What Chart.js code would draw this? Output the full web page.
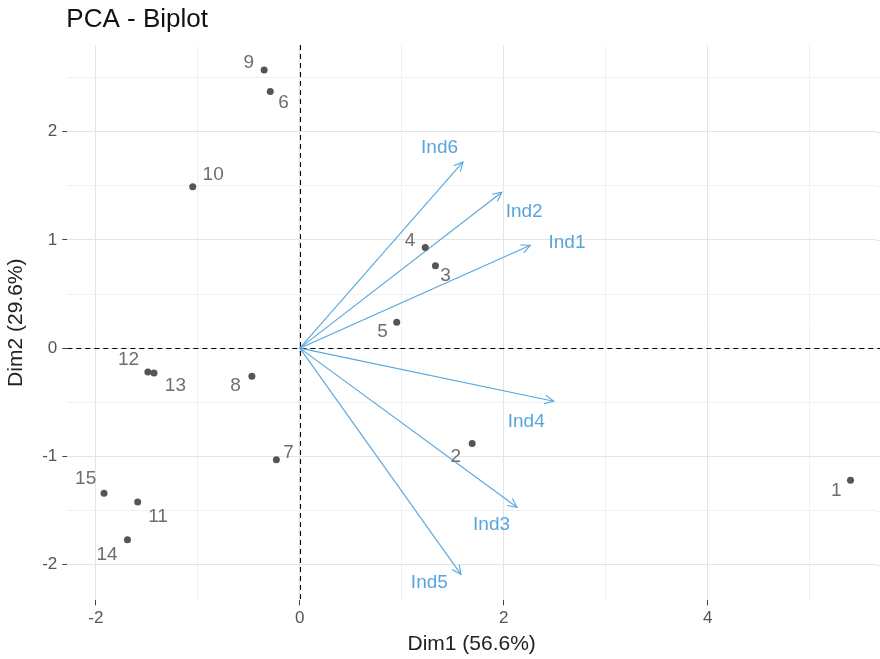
<!DOCTYPE html>
<html>
<head>
<meta charset="utf-8">
<script src="https://cdn.jsdelivr.net/npm/chart.js@4.4.1/dist/chart.umd.min.js"></script>
<style>
  html, body { margin: 0; padding: 0; background: #ffffff; }
  #wrap { width: 880px; height: 659px; }
</style>
</head>
<body>
<div id="wrap"><canvas id="c" width="880" height="659"></canvas></div>
<script>
// ---- Data ----
const pointNames = ["1","2","3","4","5","6","7","8","9","10","11","12","13","14","15"];
const pointX = [5.40, 1.69, 1.33, 1.23, 0.95, -0.29, -0.23, -0.47, -0.35, -1.05, -1.59, -1.49, -1.43, -1.69, -1.92];
const pointY = [-1.22, -0.88, 0.76, 0.93, 0.24, 2.37, -1.03, -0.26, 2.57, 1.49, -1.42, -0.22, -0.23, -1.77, -1.34];
// repelled label anchors (data units)
const pointLabelX = [5.26, 1.53, 1.43, 1.08, 0.81, -0.16, -0.11, -0.63, -0.50, -0.85, -1.39, -1.68, -1.22, -1.89, -2.10];
const pointLabelY = [-1.32, -1.00, 0.67, 0.99, 0.15, 2.27, -0.97, -0.35, 2.64, 1.60, -1.56, -0.11, -0.35, -1.91, -1.21];

const varNames = ["Ind1","Ind2","Ind3","Ind4","Ind5","Ind6"];
const varX = [2.26, 1.98, 2.13, 2.49, 1.58, 1.60];
const varY = [0.95, 1.44, -1.47, -0.49, -2.09, 1.72];
const varLabelX = [2.62, 2.20, 1.88, 2.22, 1.27, 1.37];
const varLabelY = [0.97, 1.26, -1.63, -0.68, -2.17, 1.85];

const xMajorTicks = [-2, 0, 2, 4];
const xMinorTicks = [-1, 1, 3, 5];
const yMajorTicks = [-2, -1, 0, 1, 2];
const yMinorTicks = [-1.5, -0.5, 0.5, 1.5, 2.5];
const xRange = [-2.28, 5.65];
const yRange = [-2.33, 2.80];

const titleText = "PCA - Biplot";
const xTitle = "Dim1 (56.6%)";
const yTitle = "Dim2 (29.6%)";

// ---- Styles ----
const FONT = "'Liberation Sans', Arial, sans-serif";
const pointColor = "#555555";
const pointLabelColor = "#6e6e6e";
const arrowColor = "#56a6dd";
const majorGrid = "#e4e4e4";
const minorGrid = "#f1f1f1";

const datasets = [{
  type: 'scatter',
  label: 'individuals',
  data: pointX.map((x, i) => ({ x: x, y: pointY[i] })),
  backgroundColor: pointColor,
  borderWidth: 0,
  pointRadius: 3.5,
  order: 1
}];
varNames.forEach((n, i) => {
  datasets.push({
    type: 'scatter',
    label: n,
    data: [{ x: 0, y: 0 }, { x: varX[i], y: varY[i] }],
    showLine: true,
    borderColor: arrowColor,
    borderWidth: 1.1,
    pointRadius: 0,
    order: 2
  });
});

const isIn = (arr, v) => arr.some(a => Math.abs(a - v) < 1e-9);

const decor = {
  id: 'decor',
  beforeDatasetsDraw(chart) {
    const { ctx, chartArea: a, scales: { x, y } } = chart;
    ctx.save();
    // extend horizontal grid lines to the canvas edge
    yMajorTicks.concat(yMinorTicks).forEach(v => {
      const py = Math.round(y.getPixelForValue(v)) + 0.5;
      ctx.strokeStyle = isIn(yMajorTicks, v) ? majorGrid : minorGrid;
      ctx.lineWidth = 1;
      ctx.beginPath(); ctx.moveTo(a.right, py); ctx.lineTo(chart.width, py); ctx.stroke();
    });
    ctx.strokeStyle = '#000';
    ctx.lineWidth = 1.1;
    ctx.setLineDash([5, 4]);
    const x0 = Math.round(x.getPixelForValue(0)) + 0.5;
    const y0 = Math.round(y.getPixelForValue(0)) + 0.5;
    ctx.beginPath(); ctx.moveTo(x0, a.top); ctx.lineTo(x0, a.bottom); ctx.stroke();
    ctx.beginPath(); ctx.moveTo(a.left, y0); ctx.lineTo(chart.width, y0); ctx.stroke();
    ctx.restore();
  },
  afterDatasetsDraw(chart) {
    const { ctx, scales: { x, y } } = chart;
    ctx.save();
    ctx.strokeStyle = arrowColor;
    ctx.lineWidth = 1.1;
    const ox = x.getPixelForValue(0), oy = y.getPixelForValue(0);
    varNames.forEach((n, i) => {
      const tx = x.getPixelForValue(varX[i]), ty = y.getPixelForValue(varY[i]);
      const ang = Math.atan2(ty - oy, tx - ox);
      const L = 10, w = Math.PI / 7;
      ctx.beginPath();
      ctx.moveTo(tx - L * Math.cos(ang - w), ty - L * Math.sin(ang - w));
      ctx.lineTo(tx, ty);
      ctx.lineTo(tx - L * Math.cos(ang + w), ty - L * Math.sin(ang + w));
      ctx.stroke();
    });
    ctx.textAlign = 'center';
    ctx.textBaseline = 'middle';
    ctx.font = `19px ${FONT}`;
    ctx.fillStyle = pointLabelColor;
    pointNames.forEach((n, i) => {
      ctx.fillText(n, x.getPixelForValue(pointLabelX[i]), y.getPixelForValue(pointLabelY[i]));
    });
    ctx.fillStyle = arrowColor;
    varNames.forEach((n, i) => {
      ctx.fillText(n, x.getPixelForValue(varLabelX[i]), y.getPixelForValue(varLabelY[i]));
    });
    ctx.restore();
  },
  afterDraw(chart) {
    const { ctx, chartArea: a } = chart;
    ctx.save();
    ctx.font = `26px ${FONT}`;
    ctx.fillStyle = '#111';
    ctx.textAlign = 'left';
    ctx.textBaseline = 'alphabetic';
    ctx.fillText(titleText, a.left - 1, 27);
    ctx.restore();
  }
};

new Chart(document.getElementById('c'), {
  type: 'scatter',
  data: { datasets: datasets },
  options: {
    responsive: false,
    animation: false,
    layout: { padding: { top: 45, right: 0, left: 4, bottom: 2 } },
    plugins: { legend: { display: false }, tooltip: { enabled: false }, title: { display: false } },
    scales: {
      x: {
        type: 'linear',
        min: xRange[0], max: xRange[1],
        afterBuildTicks: s => { s.ticks = [...xMajorTicks, ...xMinorTicks].sort((a, b) => a - b).map(v => ({ value: v })); },
        afterFit: s => { s.paddingLeft = 0; s.paddingRight = 0; },
        ticks: {
          autoSkip: false, maxRotation: 0, padding: 3,
          color: '#555', font: { family: FONT, size: 17 },
          callback: v => isIn(xMajorTicks, v) ? String(v) : ''
        },
        grid: {
          color: c => isIn(xMajorTicks, c.tick.value) ? majorGrid : minorGrid,
          lineWidth: 1,
          tickColor: c => isIn(xMajorTicks, c.tick.value) ? '#444' : 'rgba(0,0,0,0)',
          tickLength: 5,
          drawTicks: true
        },
        border: { display: false },
        title: { display: true, text: xTitle, color: '#222', font: { family: FONT, size: 21 }, padding: { top: 0, bottom: 0 } }
      },
      y: {
        type: 'linear',
        min: yRange[0], max: yRange[1],
        afterBuildTicks: s => { s.ticks = [...yMajorTicks, ...yMinorTicks].sort((a, b) => a - b).map(v => ({ value: v })); },
        afterFit: s => { s.paddingTop = 0; s.paddingBottom = 0; s.paddingLeft = 0; s.paddingRight = 0; },
        ticks: {
          autoSkip: false, padding: 5,
          color: '#555', font: { family: FONT, size: 17 },
          callback: v => isIn(yMajorTicks, v) ? String(v) : ''
        },
        grid: {
          color: c => isIn(yMajorTicks, c.tick.value) ? majorGrid : minorGrid,
          lineWidth: 1,
          tickColor: c => isIn(yMajorTicks, c.tick.value) ? '#444' : 'rgba(0,0,0,0)',
          tickLength: 5,
          drawTicks: true
        },
        border: { display: false },
        title: { display: true, text: yTitle, color: '#222', font: { family: FONT, size: 21 }, padding: { top: 0, bottom: 8 } }
      }
    }
  },
  plugins: [decor]
});
</script>
</body>
</html>
